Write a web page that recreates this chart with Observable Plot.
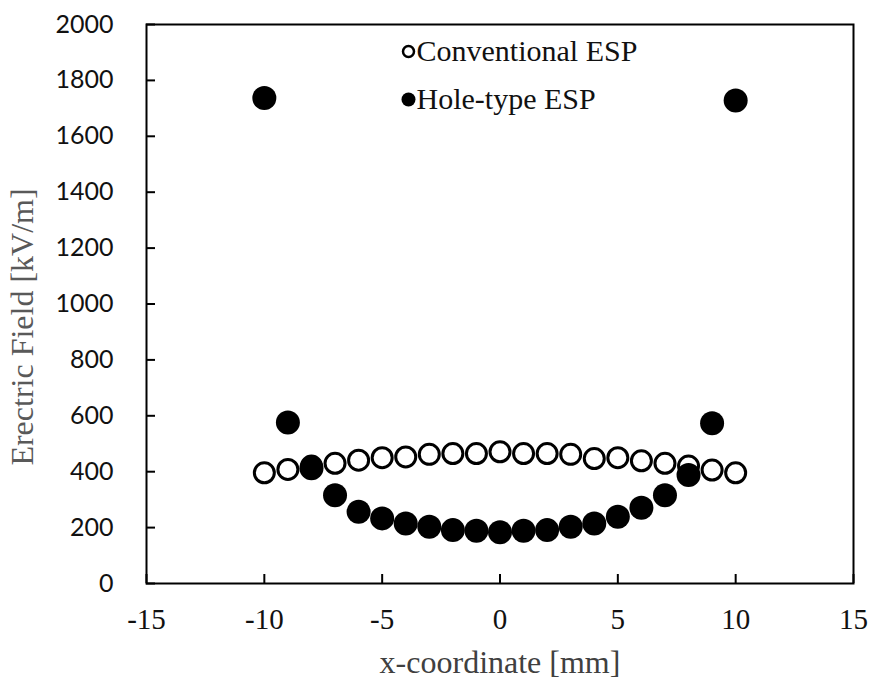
<!DOCTYPE html>
<html>
<head>
<meta charset="utf-8">
<script src="https://cdn.jsdelivr.net/npm/d3@7"></script>
<script src="https://cdn.jsdelivr.net/npm/@observablehq/plot@0.6"></script>
<style>
  html, body { margin: 0; padding: 0; background: #fff; }
  #chart { width: 872px; height: 682px; }
</style>
</head>
<body>
<div id="chart"></div>
<script>
// Electric field along the x-coordinate for two ESP designs
const xPos = [-10, -9, -8, -7, -6, -5, -4, -3, -2, -1, 0, 1, 2, 3, 4, 5, 6, 7, 8, 9, 10];
const conventional = [396, 408, 420, 430, 441, 450, 453, 462, 465, 465, 471, 465, 465, 462, 447, 450, 439, 430, 420, 406, 396];
const holeType = [1737, 576, 412, 316, 257, 233, 215, 203, 191, 189, 183, 189, 191, 203, 215, 239, 271, 316, 388, 573, 1728];

const xTicks = [-15, -10, -5, 0, 5, 10, 15];
const yTicks = [0, 200, 400, 600, 800, 1000, 1200, 1400, 1600, 1800, 2000];

const seriesNames = ["Conventional ESP", "Hole-type ESP"];

const convData = xPos.map((x, i) => ({x, y: conventional[i]}));
const holeData = xPos.map((x, i) => ({x, y: holeType[i]}));

const serif = "'Liberation Serif', 'Times New Roman', serif";
const tickLen = 9;

const chart = Plot.plot({
  width: 872,
  height: 682,
  marginLeft: 146,
  marginRight: 19,
  marginTop: 24,
  marginBottom: 99,
  style: {fontFamily: serif, color: "#000", background: "#fff"},
  x: {domain: [-15, 15]},
  y: {domain: [0, 2000]},
  marks: [
    Plot.frame({stroke: "#000", strokeWidth: 2}),
    // y axis: sans-serif numbers
    Plot.axisY({ticks: yTicks, tickSize: 0, tickPadding: 33, label: null,
      fontFamily: "Lato", fontSize: 25, fill: "#111", tickFormat: d => String(d)}),
    // x axis: serif numbers
    Plot.axisX({ticks: xTicks, tickSize: 0, tickPadding: 25, label: null,
      fontFamily: serif, fontSize: 29, fill: "#111", tickFormat: d => String(d)}),

    // axis titles
    Plot.text(["x-coordinate [mm]"], {frameAnchor: "bottom", dy: 79, textAnchor: "middle",
      lineAnchor: "middle", fontSize: 32, fontFamily: serif, fill: "#404040"}),
    Plot.text(["Erectric Field [kV/m]"], {frameAnchor: "left", dx: -124, dy: 23, rotate: -90,
      textAnchor: "middle", lineAnchor: "middle", fontSize: 32, fontFamily: serif, fill: "#595959"}),

    // data
    Plot.dot(convData, {x: "x", y: "y", r: 10, fill: "#fff", stroke: "#000", strokeWidth: 3}),
    Plot.dot(holeData, {x: "x", y: "y", r: 12, fill: "#000", stroke: "none"}),

    // legend
    Plot.dot([seriesNames[0]], {frameAnchor: "top-left", dx: 262, dy: 27, r: 5.5, fill: "#fff", stroke: "#000", strokeWidth: 2.5}),
    Plot.text([seriesNames[0]], {frameAnchor: "top-left", dx: 270, dy: 27, textAnchor: "start",
      lineAnchor: "middle", fontSize: 30, fontFamily: serif, fill: "#111"}),
    Plot.dot([seriesNames[1]], {frameAnchor: "top-left", dx: 262, dy: 75, r: 7, fill: "#000"}),
    Plot.text([seriesNames[1]], {frameAnchor: "top-left", dx: 270, dy: 75, textAnchor: "start",
      lineAnchor: "middle", fontSize: 30, fontFamily: serif, fill: "#111"}),

    // inward tick marks: axis ticks shifted into the frame by their own length
    Plot.axisY({ticks: yTicks, tickSize: tickLen, dx: tickLen, label: null, tickFormat: () => "",
      stroke: "#000", strokeWidth: 2}),
    Plot.axisX({ticks: xTicks, tickSize: tickLen, dy: -tickLen, label: null, tickFormat: () => "",
      stroke: "#000", strokeWidth: 2})
  ]
});

document.getElementById("chart").appendChild(chart);
</script>
</body>
</html>
